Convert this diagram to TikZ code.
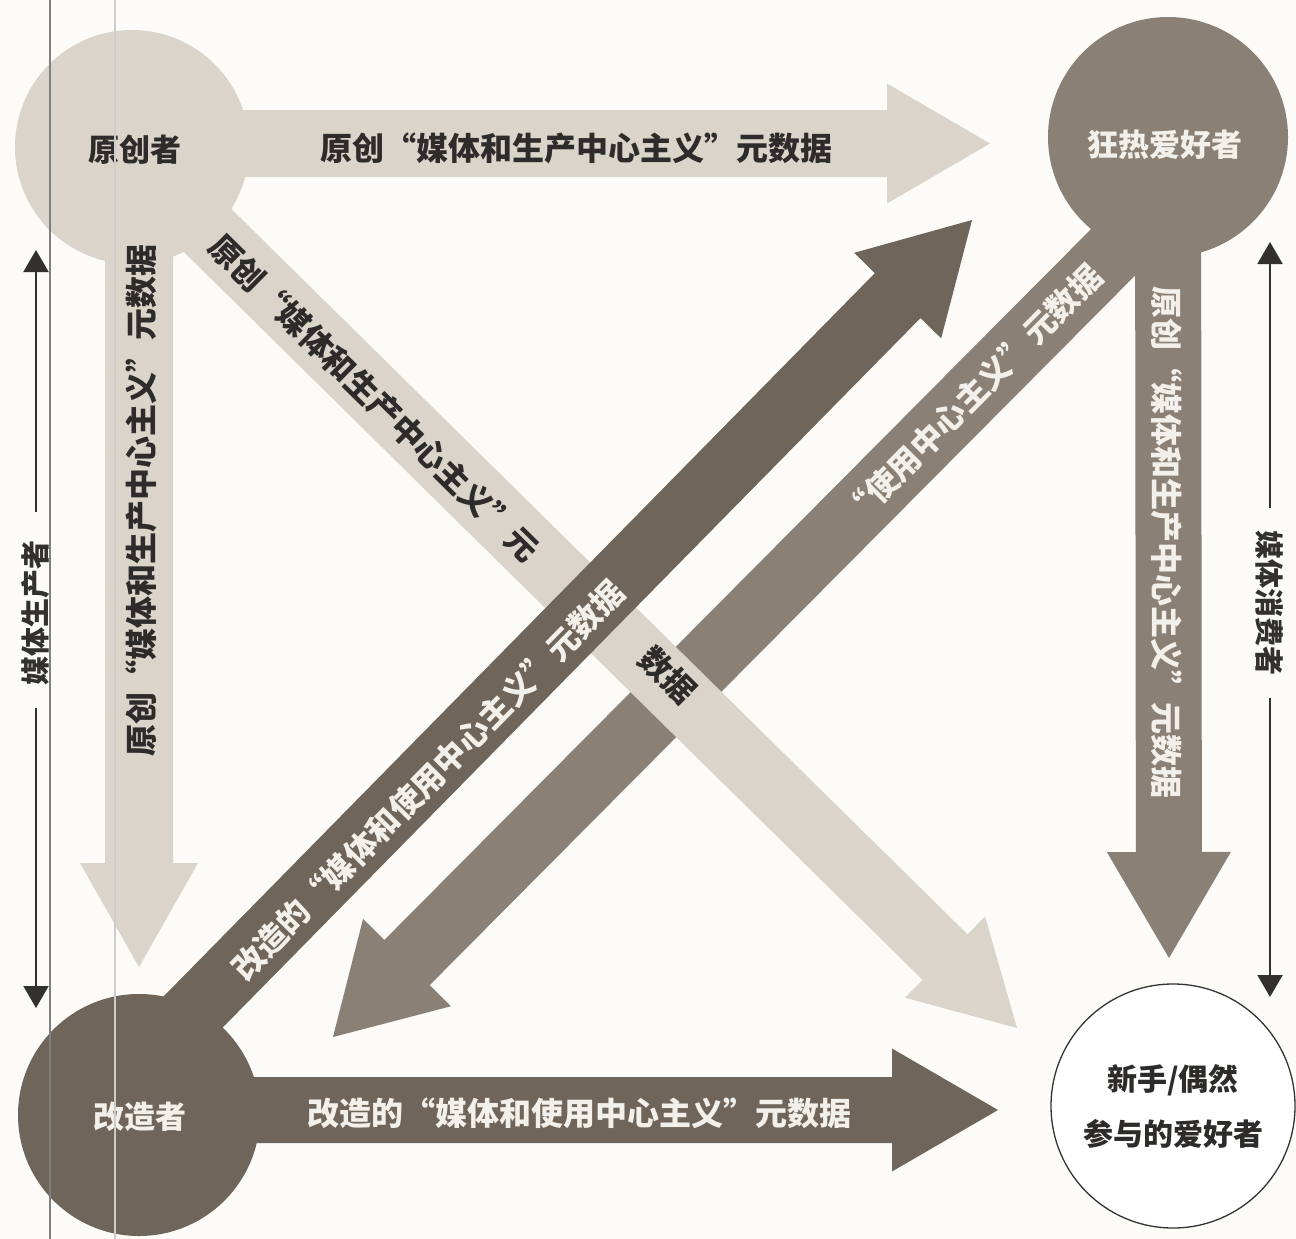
\documentclass[tikz,border=0pt]{standalone}
\usepackage{fontspec}
\setmainfont{Noto Sans CJK SC}
\usetikzlibrary{calc,arrows.meta}
\definecolor{bgc}{HTML}{FCFBF8}
\definecolor{lightc}{HTML}{DAD4CB}
\definecolor{fanc}{HTML}{8A8076}
\definecolor{modc}{HTML}{6F655A}
\definecolor{darktext}{HTML}{2E2C2A}
\definecolor{whitetext}{HTML}{F3F0EB}
\definecolor{sidec}{HTML}{333130}
\newcommand\fatarrow[6]{%
  \coordinate (#1#2b) at ($(#2)!#5!(#1)$);
  \fill[#6] ($(#1)!#3!90:(#2)$) -- ($(#1#2b)!#3!-90:(#1)$) -- ($(#1#2b)!#4!-90:(#1)$) -- (#2)
    -- ($(#1#2b)!#4!90:(#1)$) -- ($(#1#2b)!#3!90:(#1)$) -- ($(#1)!#3!-90:(#2)$) -- cycle;
}
\tikzset{
  lbl/.style={font=\bfseries\fontsize{32pt}{32pt}\selectfont, inner sep=0pt},
  dk/.style={lbl, text=darktext},
  wt/.style={lbl, text=whitetext},
  circ/.style={circle, inner sep=0pt, font=\bfseries\fontsize{31pt}{31pt}\selectfont},
  sidelab/.style={font=\bfseries\fontsize{29pt}{29pt}\selectfont, inner sep=0pt, text=sidec},
  sideline/.style={draw=sidec, line width=2pt, -{Triangle[width=25pt,length=22pt]}},
}
\begin{document}
\begin{tikzpicture}[x=1pt,y=-1pt]
\useasboundingbox (0,0) rectangle (1296,1239);
\fill[bgc] (0,0) rectangle (1296,1239);

% arrow end points
\coordinate (t1s) at (132,143.5);  \coordinate (t1e) at (990,143.5);
\coordinate (l1s) at (139,147);    \coordinate (l1e) at (139,967);
\coordinate (b1s) at (139,1110);   \coordinate (b1e) at (998,1110);
\coordinate (r1s) at (1168,137);   \coordinate (r1e) at (1169,958);
\coordinate (d1s) at (132,156);    \coordinate (d1e) at (1017,1028);
\coordinate (d2s) at (140,1066);   \coordinate (d2e) at (972,220);
\coordinate (d3s) at (1175,190);   \coordinate (d3e) at (333,1037);

% ---- fan group (bottom layer)
\fatarrow{d3s}{d3e}{32pt}{62pt}{105pt}{fanc}
\fatarrow{r1s}{r1e}{33pt}{62pt}{106pt}{fanc}
\node[circ, fill=fanc, minimum size=240pt, text=whitetext] (fan) at (1168,137) {};
\node[wt, font=\bfseries\fontsize{31pt}{31pt}\selectfont] (fanlab) at (1165,145) {狂热爱好者};
\node[wt, rotate=45.2] (d3lab) at (972,395) {“使用中心主义”元数据};
\node[wt, rotate=-90] (r1lab) at (1167,542) {原创“媒体和生产中心主义”元数据};

% ---- light group
\fatarrow{t1s}{t1e}{33.5pt}{60pt}{103pt}{lightc}
\fatarrow{l1s}{l1e}{34pt}{59pt}{104pt}{lightc}
\fatarrow{d1s}{d1e}{32pt}{57pt}{101pt}{lightc}
\node[circ, fill=lightc, minimum size=234pt] (orig) at (132,147) {};
\node[dk, font=\bfseries\fontsize{31pt}{31pt}\selectfont] (origlab) at (135,150) {原创者};
\node[dk] (t1lab) at (576,148) {原创“媒体和生产中心主义”元数据};
\node[dk, rotate=90] (l1lab) at (141,500) {原创“媒体和生产中心主义”元数据};
\node[dk, rotate=-44.6] (d1laba) at (374,398) {原创“媒体和生产中心主义”元};
\node[dk, rotate=-44.6] (d1labb) at (668,675) {数据};

% ---- modifier group (top layer)
\fatarrow{d2s}{d2e}{32pt}{61pt}{106pt}{modc}
\fatarrow{b1s}{b1e}{33pt}{61.5pt}{106pt}{modc}
\node[circ, fill=modc, minimum size=242pt] (mod) at (139,1115) {};
\node[wt, font=\bfseries\fontsize{31pt}{31pt}\selectfont] (modlab) at (140,1117) {改造者};
\node[wt, rotate=45.5] (d2lab) at (428,780) {改造的“媒体和使用中心主义”元数据};
\node[wt] (b1lab) at (579,1113) {改造的“媒体和使用中心主义”元数据};

% ---- novice
\node[circ, draw=black!80, line width=1.3pt, fill=white, minimum size=244pt,
      align=center, text=darktext, font=\bfseries\fontsize{30pt}{55pt}\selectfont] (nov) at (1173,1106)
      {新手/偶然\\参与的爱好者};

% ---- side scales
\node[sidelab, rotate=90] (prodlab) at (36,613) {媒体生产者};
\node[sidelab, rotate=-90] (conslab) at (1270,603) {媒体消费者};
\coordinate (pu) at (36,250); \coordinate (pd) at (36,1008);
\coordinate (cu) at (1270,242); \coordinate (cd) at (1270,997);
\draw[sideline] (prodlab.east) ++(0,-28) -- (pu);
\draw[sideline] (prodlab.west) ++(0,22) -- (pd);
\draw[sideline] (conslab.west) ++(0,-22) -- (cu);
\draw[sideline] (conslab.east) ++(0,22) -- (cd);

% ---- scan gutter lines
\draw[color=black!50, line width=1.6pt] (50,0) -- (50,1239);
\draw[color=black!20, line width=1.4pt] (115,0) -- (115,1239);
\end{tikzpicture}
\end{document}
